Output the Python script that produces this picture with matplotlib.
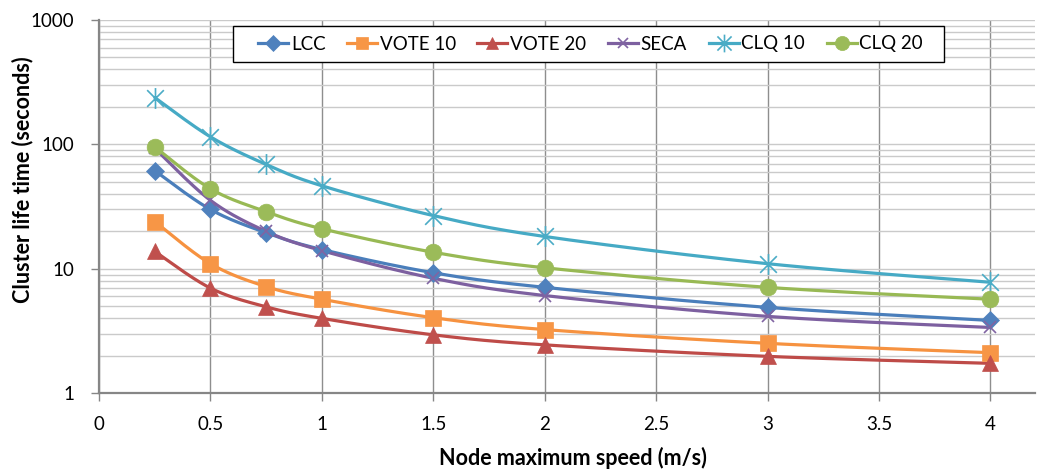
import numpy as np
import matplotlib
matplotlib.use("Agg")
import matplotlib.pyplot as plt
from matplotlib.path import Path
from matplotlib.lines import Line2D
from matplotlib.patches import Rectangle
from matplotlib.ticker import LogLocator, FixedLocator, NullFormatter

plt.rcParams["font.family"] = ["Lato", "DejaVu Sans"]

# Node maximum speed (m/s)
speed = [0.25, 0.5, 0.75, 1, 1.5, 2, 3, 4]

# Cluster life time (seconds) per algorithm
lcc    = [61.5, 30.0, 19.5, 14.3, 9.3, 7.1, 4.9, 3.85]
vote10 = [24.0, 11.0, 7.2, 5.7, 4.05, 3.25, 2.52, 2.12]
vote20 = [13.8, 7.0, 4.95, 4.0, 2.95, 2.45, 1.98, 1.74]
seca   = [93.0, 35.5, 20.0, 14.0, 8.4, 6.1, 4.15, 3.38]
clq10  = [238.0, 115.0, 69.0, 46.5, 26.8, 18.2, 11.0, 7.8]
clq20  = [95.5, 44.0, 28.8, 21.0, 13.6, 10.2, 7.1, 5.7]

labels = ["LCC", "VOTE 10", "VOTE 20", "SECA", "CLQ 10", "CLQ 20"]
series = [lcc, vote10, vote20, seca, clq10, clq20]

line_colors = ["#4A7EBB", "#F69240", "#BE4B48", "#7D60A0", "#46AAC5", "#98B954"]
fill_colors = ["#4F81BD", "#F79646", "#C0504D", "#8064A2", "#4BACC6", "#9BBB59"]

# star marker: an X with a vertical stroke through it
star = Path(
    [(-1, -1), (1, 1), (-1, 1), (1, -1), (0, -1.25), (0, 1.25)],
    [Path.MOVETO, Path.LINETO, Path.MOVETO, Path.LINETO, Path.MOVETO, Path.LINETO],
)
markers = ["D", "s", "^", "x", star, "o"]
msizes = [9.5, 11, 11, 8, 15, 12]
stroke_marker = [False, False, False, True, True, False]


def smooth(xs, ys, n=30):
    """Catmull-Rom style Bezier smoothing in (x, log10 y) space."""
    px = np.asarray(xs, float)
    py = np.log10(np.asarray(ys, float))
    P = np.column_stack([px, py])
    m = len(P)
    out = []
    t = np.linspace(0, 1, n)[:, None]
    for i in range(m - 1):
        p0 = P[i - 1] if i > 0 else P[i]
        p1 = P[i]
        p2 = P[i + 1]
        p3 = P[i + 2] if i + 2 < m else P[i + 1]
        c1 = p1 + (p2 - p0) / 6.0
        c2 = p2 - (p3 - p1) / 6.0
        seg = ((1 - t) ** 3) * p1 + 3 * ((1 - t) ** 2) * t * c1 + 3 * (1 - t) * t ** 2 * c2 + t ** 3 * p2
        out.append(seg if i == 0 else seg[1:])
    pts = np.vstack(out)
    return pts[:, 0], 10 ** pts[:, 1]


W, H = 1037, 471
fig = plt.figure(figsize=(W / 100, H / 100), dpi=100)
ax = fig.add_axes([0.0955, 0.165, 0.9026, 0.7926])

handles = []
for name, ys, lc, fc, mk, ms, sm in zip(labels, series, line_colors, fill_colors,
                                         markers, msizes, stroke_marker):
    sx, sy = smooth(speed, ys)
    ax.plot(sx, sy, color=lc, lw=2.3, zorder=3, solid_capstyle="round")
    ax.plot(speed, ys, linestyle="none", marker=mk, markersize=ms,
            markerfacecolor=fc, markeredgecolor=fc,
            markeredgewidth=1.2 if sm else 0.5, zorder=4)
    handles.append(Line2D([0], [0], color=lc, lw=2.3, marker=mk, markersize=ms * 0.85,
                          markerfacecolor=fc, markeredgecolor=fc,
                          markeredgewidth=1.2 if sm else 0.5))

ax.set_yscale("log")
ax.set_ylim(1, 1000)
ax.set_xlim(0, 4.2)

ax.xaxis.set_major_locator(FixedLocator(np.arange(0, 4.01, 0.5)))
ax.set_xticklabels(["0", "0.5", "1", "1.5", "2", "2.5", "3", "3.5", "4"])
ax.yaxis.set_major_locator(FixedLocator([1, 10, 100, 1000]))
ax.set_yticklabels(["1", "10", "100", "1000"])
ax.yaxis.set_minor_locator(LogLocator(base=10, subs=np.arange(2, 10)))
ax.yaxis.set_minor_formatter(NullFormatter())

ax.grid(axis="x", which="major", color="#8e8e8e", lw=1.0, zorder=0)
ax.grid(axis="y", which="both", color="#cacaca", lw=1.0, zorder=0)
ax.set_axisbelow(True)

for side in ("top", "right"):
    ax.spines[side].set_visible(False)
for side in ("left", "bottom"):
    ax.spines[side].set_color("#868686")
    ax.spines[side].set_linewidth(1.6)

ax.tick_params(axis="both", which="major", direction="out", length=6, width=1,
               color="#868686", labelsize=13.5, labelcolor="#000000")
ax.tick_params(axis="y", which="minor", length=0)
ax.tick_params(axis="y", pad=12)
ax.tick_params(axis="x", pad=10)

ax.set_xlabel("Node maximum speed (m/s)", fontsize=15.5, fontweight="bold")
ax.set_ylabel("Cluster life time (seconds)", fontsize=15.5, fontweight="bold")
ax.xaxis.label.set_verticalalignment("center")
ax.xaxis.set_label_coords((572.5 - 99) / 936, (393.3 - 458) / 373.3)
ax.yaxis.label.set_horizontalalignment("center")
ax.yaxis.label.set_verticalalignment("center")
ax.yaxis.set_label_coords((22 - 99) / 936, (393.3 - 180) / 373.3)

# legend without its own frame; a rectangle with wider side padding is drawn behind it
leg_fs = 13.5
content_left, content_right = 258, 923
spacing = 1.3


def make_legend(colsp):
    return ax.legend(handles, labels, loc="center",
                     bbox_to_anchor=((content_left + content_right) / 2 / W, 1 - 44 / H),
                     bbox_transform=fig.transFigure,
                     ncol=6, frameon=False, fontsize=leg_fs,
                     handlelength=1.6, handletextpad=0.15, columnspacing=colsp,
                     borderpad=0.0, borderaxespad=0)


leg = make_legend(spacing)
fig.canvas.draw()
w = leg.get_window_extent().width
fs_px = leg_fs * 100 / 72
spacing = max(0.3, spacing + (content_right - content_left - w) / 5 / fs_px)
leg = make_legend(spacing)
leg.set_zorder(6)

left, right = 233, 944
top, bottom = 26, 62
frame = Rectangle((left / W, 1 - bottom / H), (right - left) / W, (bottom - top) / H,
                  transform=fig.transFigure, facecolor="white", edgecolor="#000000",
                  lw=1.0, zorder=5.5, clip_on=False)
ax.add_patch(frame)

fig.savefig("out.png", dpi=100, facecolor="white")
